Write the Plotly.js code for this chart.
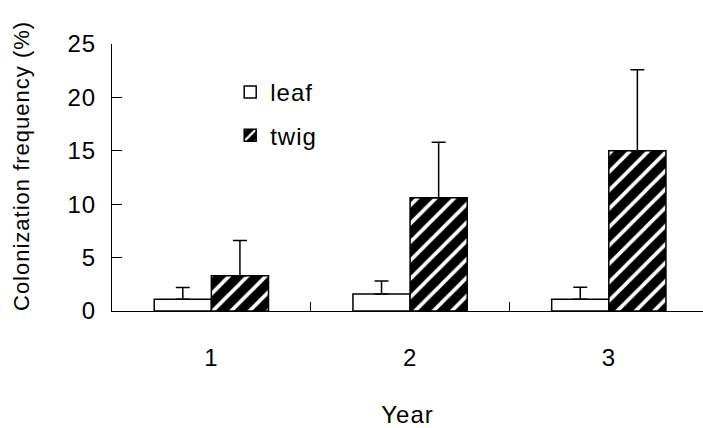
<!DOCTYPE html>
<html>
<head>
<meta charset="utf-8">
<script src="https://cdn.plot.ly/plotly-3.0.1.min.js"></script>
<style>
html,body{margin:0;padding:0;background:#fff;}
#chart{width:703px;height:428px;}
#chart text{letter-spacing:1px;}
</style>
</head>
<body>
<div id="chart"></div>
<script>
const years = ['1', '2', '3'];
const leafValues = [1.1, 1.6, 1.1];
const leafErrors = [1.1, 1.2, 1.12];
const twigValues = [3.3, 10.6, 15.0];
const twigErrors = [3.3, 5.2, 7.6];
const yTicks = [0, 5, 10, 15, 20, 25];
const xTitle = 'Year';
const yTitle = 'Colonization frequency (%)';

const zeros = years.map(() => 0);
const fontFamily = 'Arial, "Liberation Sans", sans-serif';

const leaf = {
  type: 'bar', name: 'leaf', x: years, y: leafValues,
  legendgroup: 'a',
  marker: {color: 'white', line: {color: 'black', width: 1.5}},
  error_y: {type: 'data', symmetric: false, array: leafErrors, arrayminus: zeros,
            color: 'black', thickness: 1.5, width: 7}
};
const twig = {
  type: 'bar', name: 'twig', x: years, y: twigValues,
  legendgroup: 'b',
  marker: {color: 'black', line: {color: 'black', width: 1.5},
           pattern: {shape: '/', fgcolor: 'white', bgcolor: 'black', fillmode: 'replace', size: 13, solidity: 0.28}},
  error_y: {type: 'data', symmetric: false, array: twigErrors, arrayminus: zeros,
            color: 'black', thickness: 1.5, width: 7}
};

const layout = {
  width: 703, height: 428,
  margin: {l: 112, r: 0, t: 44, b: 117},
  paper_bgcolor: 'white', plot_bgcolor: 'white',
  font: {family: fontFamily, size: 24, color: 'black'},
  barmode: 'group', bargap: 0.425, bargroupgap: 0,
  showlegend: true,
  legend: {x: 0.2, xanchor: 'left', y: 0.903, yanchor: 'top', traceorder: 'grouped',
           tracegroupgap: 9, bgcolor: 'rgba(0,0,0,0)', font: {size: 24, family: fontFamily}},
  xaxis: {
    type: 'category', range: [-0.5, 2.474], fixedrange: true,
    showline: true, linecolor: 'black', linewidth: 1,
    ticks: 'inside', tickson: 'boundaries', ticklen: 9, tickcolor: 'black', tickwidth: 1,
    ticklabelstandoff: 25,
    showgrid: false, zeroline: false,
    title: {text: xTitle, standoff: 44, font: {size: 24, family: fontFamily}}
  },
  yaxis: {
    range: [0, 25], tickvals: yTicks, ticktext: yTicks.map(String),
    showline: true, linecolor: 'black', linewidth: 1,
    ticks: 'inside', ticklen: 10, tickcolor: 'black', tickwidth: 1,
    ticklabelstandoff: 10,
    showgrid: false, zeroline: false
  },
  annotations: [{
    text: yTitle, textangle: -90, showarrow: false,
    xref: 'paper', yref: 'paper', x: -0.154, y: 0.543,
    xanchor: 'center', yanchor: 'middle',
    font: {size: 22, family: fontFamily, color: 'black'}
  }]
};

Plotly.newPlot('chart', [leaf, twig], layout, {displayModeBar: false, staticPlot: true});
</script>
</body>
</html>
